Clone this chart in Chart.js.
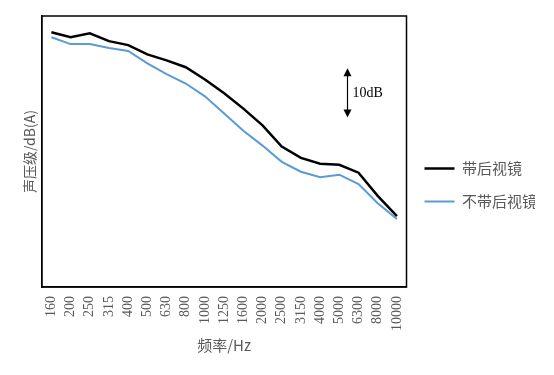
<!DOCTYPE html>
<html>
<head>
<meta charset="utf-8">
<script src="https://cdn.jsdelivr.net/npm/chart.js@4.4.1/dist/chart.umd.min.js"></script>
<style>
  html, body { margin: 0; padding: 0; background: #fff; }
  #wrap { width: 554px; height: 375px; }
</style>
</head>
<body>
<div id="wrap"><canvas id="chart"></canvas></div>
<script>
// 1/3 octave band centre frequencies (Hz)
const freqLabels = ['160', '200', '250', '315', '400', '500', '630', '800', '1000', '1250',
  '1600', '2000', '2500', '3150', '4000', '5000', '6300', '8000', '10000'];

// sound pressure level, dB(A)
const withMirror = [81.7, 80.7, 81.5, 79.9, 79.1, 77.2, 76.0, 74.6, 72.1, 69.3,
  66.2, 62.8, 58.5, 56.2, 55.0, 54.8, 53.2, 48.5, 44.4];
const withoutMirror = [80.7, 79.3, 79.3, 78.5, 77.9, 75.4, 73.2, 71.3, 68.7, 65.2,
  61.7, 58.7, 55.4, 53.4, 52.3, 52.8, 50.9, 47.0, 43.8];

const seriesNames = ['带后视镜', '不带后视镜'];

// scale bar: 10 dB
const scaleBarFrom = 64.4;
const scaleBarStep = 10;
const scaleBarAt = 15.4; // category index (between 5000 and 6300)

const gray = '#595959';

// frame around plot area + the 10dB scale arrow
const framePlugin = {
  id: 'frame',
  afterDraw(chart) {
    const { ctx, chartArea: a, scales } = chart;
    ctx.save();
    ctx.strokeStyle = '#000';
    ctx.lineWidth = 1.5;
    ctx.strokeRect(a.left, a.top, a.right - a.left, a.bottom - a.top);

    const x = Math.round(scales.x.getPixelForValue(scaleBarAt)) + 0.5;
    const y1 = scales.y.getPixelForValue(scaleBarFrom + scaleBarStep);
    const y2 = scales.y.getPixelForValue(scaleBarFrom);
    ctx.lineWidth = 1.2;
    ctx.beginPath();
    ctx.moveTo(x, y1 + 6);
    ctx.lineTo(x, y2 - 6);
    ctx.stroke();
    ctx.fillStyle = '#000';
    ctx.beginPath();
    ctx.moveTo(x, y1); ctx.lineTo(x - 4, y1 + 8); ctx.lineTo(x + 4, y1 + 8); ctx.closePath();
    ctx.fill();
    ctx.beginPath();
    ctx.moveTo(x, y2); ctx.lineTo(x - 4, y2 - 8); ctx.lineTo(x + 4, y2 - 8); ctx.closePath();
    ctx.fill();

    ctx.font = '14px "Liberation Serif", "DejaVu Serif", serif';
    ctx.textAlign = 'left';
    ctx.textBaseline = 'middle';
    ctx.fillText(scaleBarStep + 'dB', x + 5, (y1 + y2) / 2);
    ctx.restore();
  }
};

new Chart(document.getElementById('chart'), {
  type: 'line',
  data: {
    labels: freqLabels,
    datasets: [
      {
        label: seriesNames[0],
        data: withMirror,
        borderColor: '#000000',
        backgroundColor: '#000000',
        borderWidth: 2.5,
        pointRadius: 0,
        tension: 0,
      },
      {
        label: seriesNames[1],
        data: withoutMirror,
        borderColor: '#5B9BD5',
        backgroundColor: '#5B9BD5',
        borderWidth: 2,
        pointRadius: 0,
        tension: 0,
      },
    ],
  },
  options: {
    responsive: true,
    maintainAspectRatio: false,
    animation: false,
    layout: { padding: { top: 16, left: 21, right: 19, bottom: 21 } },
    plugins: {
      tooltip: { enabled: false },
      legend: {
        position: 'right',
        labels: {
          color: gray,
          usePointStyle: true,
          pointStyle: 'line',
          pointStyleWidth: 30,
          font: { size: 15, family: '"Noto Sans CJK SC", sans-serif' },
          padding: 18,
        },
      },
    },
    scales: {
      x: {
        offset: true,
        grid: { display: false, drawTicks: false },
        border: { display: true, color: '#000', width: 1.5 },
        ticks: {
          color: gray,
          minRotation: 90,
          maxRotation: 90,
          autoSkip: false,
          padding: 9,
          font: { size: 14, family: '"Liberation Serif", serif' },
        },
        title: {
          display: true,
          text: '频率/Hz',
          color: gray,
          padding: { top: -4, bottom: 0 },
          font: { size: 15, family: '"Noto Sans CJK SC", sans-serif' },
        },
      },
      y: {
        min: 30,
        max: 85,
        grid: { display: false, drawTicks: false },
        border: { display: true, color: '#000', width: 1.5 },
        ticks: { display: false },
        title: {
          display: true,
          text: '声压级/dB(A)',
          color: gray,
          padding: { top: 0, bottom: 4 },
          font: { size: 14, family: '"Noto Sans CJK SC", sans-serif' },
        },
      },
    },
  },
  plugins: [framePlugin],
});
</script>
</body>
</html>
